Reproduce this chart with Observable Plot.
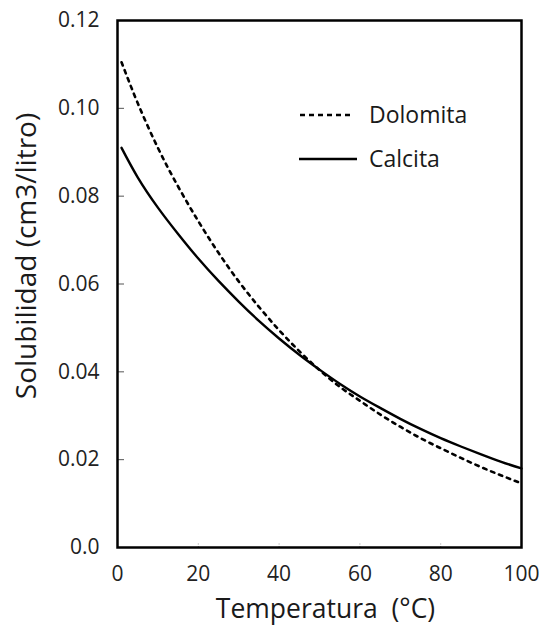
<!DOCTYPE html>
<html>
<head>
<meta charset="utf-8">
<script src="https://cdn.jsdelivr.net/npm/d3@7"></script>
<script src="https://cdn.jsdelivr.net/npm/@observablehq/plot@0.6"></script>
<style>
  html, body { margin: 0; padding: 0; background: #fff; }
  #wrap { position: relative; width: 539px; height: 625px; font-family: "Open Sans", sans-serif; color: #1a1a1a; }
  #legend { position: absolute; left: 0; top: 0; width: 539px; height: 625px; pointer-events: none; }
</style>
</head>
<body>
<div id="wrap"></div>
<script>
// ---- data ----
const temperatura = [1, 5, 10, 15, 20, 25, 30, 35, 40, 45, 50, 55, 60, 65, 70, 75, 80, 85, 90, 95, 100];
const calcita  = [0.0910, 0.0843, 0.0774, 0.0714, 0.0658, 0.0607, 0.0560, 0.0516, 0.0476, 0.0439, 0.0405, 0.0373, 0.0344, 0.0318, 0.0293, 0.0270, 0.0249, 0.0230, 0.0212, 0.0195, 0.0180];
const dolomita = [0.1105, 0.1012, 0.0910, 0.0822, 0.0743, 0.0671, 0.0606, 0.0548, 0.0495, 0.0447, 0.0404, 0.0366, 0.0334, 0.0303, 0.0275, 0.0249, 0.0226, 0.0204, 0.0183, 0.0164, 0.0146];
const seriesNames = ["Dolomita", "Calcita"];
const xTicks = [0, 20, 40, 60, 80, 100];
const yTicks = [0, 0.02, 0.04, 0.06, 0.08, 0.10, 0.12];
const xTitle = "Temperatura  (°C)";
const yTitle = "Solubilidad (cm3/litro)";

const rows = [];
temperatura.forEach((t, i) => {
  rows.push({serie: "Dolomita", t, v: dolomita[i]});
  rows.push({serie: "Calcita", t, v: calcita[i]});
});
const fmtY = d => d === 0 ? "0.0" : d.toFixed(2);

const chart = Plot.plot({
  width: 539,
  height: 625,
  marginLeft: 117,
  marginRight: 18,
  marginTop: 20,
  marginBottom: 78,
  style: {fontFamily: "Open Sans, sans-serif", color: "#1a1a1a", background: "#fff"},
  x: {domain: [0, 100]},
  y: {domain: [0, 0.12]},
  marks: [
    Plot.axisY(yTicks, {tickSize: 0, tickPadding: 18, tickFormat: fmtY, fontSize: 21, label: null, fill: "#222"}),
    Plot.axisY(yTicks.slice(1, -1), {tickSize: -7, tickFormat: () => "", stroke: "#555", strokeWidth: 1, label: null}),
    Plot.axisX(xTicks, {tickSize: 0, tickPadding: 19, fontSize: 21, label: null, fill: "#222"}),
    Plot.axisX(xTicks.slice(1, -1), {tickSize: -5, tickFormat: () => "", stroke: "#999", strokeWidth: 1, strokeDasharray: "1,1.5", label: null}),
    Plot.line(rows.filter(d => d.serie === "Calcita"), {x: "t", y: "v", stroke: "#000", strokeWidth: 2.4, curve: "natural"}),
    Plot.line(rows.filter(d => d.serie === "Dolomita"), {x: "t", y: "v", stroke: "#000", strokeWidth: 2.6, strokeDasharray: "3.5,5", curve: "natural"}),
    Plot.frame({stroke: "#000", strokeWidth: 2.5}),
    Plot.text([xTitle], {frameAnchor: "bottom", textAnchor: "middle", dx: 6, dy: 70, fontSize: 26.5, fill: "#1a1a1a"}),
    Plot.text([yTitle], {frameAnchor: "left", textAnchor: "middle", rotate: -90, dx: -90, dy: -28, fontSize: 28, fill: "#1a1a1a"})
  ]
});

const wrap = document.getElementById("wrap");
wrap.appendChild(chart);

// legend overlay
const ns = "http://www.w3.org/2000/svg";
const leg = document.createElementNS(ns, "svg");
leg.setAttribute("id", "legend");
leg.setAttribute("width", 539);
leg.setAttribute("height", 625);
const legendItems = [
  {name: seriesNames[0], y: 115, x1: 300, x2: 352, dash: "5,4"},
  {name: seriesNames[1], y: 159, x1: 299, x2: 357, dash: null}
];
legendItems.forEach(it => {
  const l = document.createElementNS(ns, "line");
  l.setAttribute("x1", it.x1); l.setAttribute("x2", it.x2);
  l.setAttribute("y1", it.y); l.setAttribute("y2", it.y);
  l.setAttribute("stroke", "#000"); l.setAttribute("stroke-width", 2.5);
  if (it.dash) l.setAttribute("stroke-dasharray", it.dash);
  leg.appendChild(l);
  const t = document.createElementNS(ns, "text");
  t.setAttribute("x", 369); t.setAttribute("y", it.y);
  t.setAttribute("dy", "0.35em");
  t.setAttribute("font-size", 23);
  t.setAttribute("font-family", "Open Sans, sans-serif");
  t.setAttribute("fill", "#1a1a1a");
  t.textContent = it.name;
  leg.appendChild(t);
});
wrap.appendChild(leg);
</script>
</body>
</html>
